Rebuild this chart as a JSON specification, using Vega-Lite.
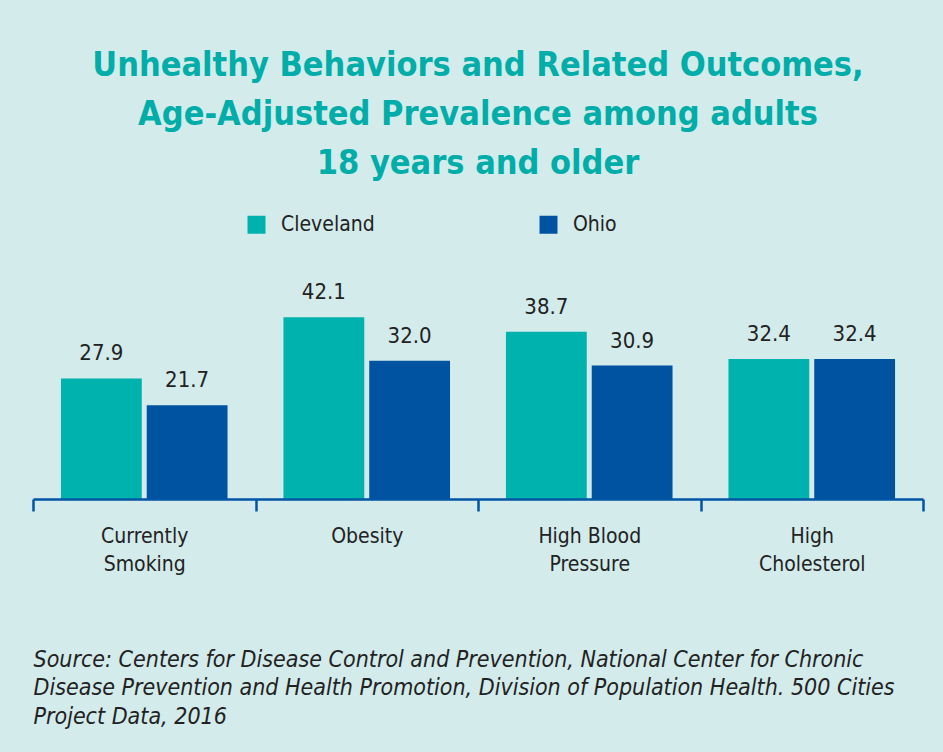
{
  "$schema": "https://vega.github.io/schema/vega-lite/v6.json",
  "autosize": "none",
  "width": 890,
  "height": 216,
  "padding": {"left": 33, "top": 283, "right": 20, "bottom": 253},
  "background": "#d3ebeb",
  "config": {
    "view": {"stroke": null},
    "font": "DejaVu Sans Condensed"
  },
  "title": {
    "text": ["Unhealthy Behaviors and Related Outcomes,", "Age-Adjusted Prevalence among adults", "18 years and older"],
    "color": "#00ada8",
    "font": "DejaVu Sans Condensed",
    "fontSize": 34,
    "fontWeight": "bold",
    "lineHeight": 49,
    "anchor": "middle",
    "offset": 33
  },
  "data": {
    "values": [
      {"measure": "Currently Smoking", "area": "Cleveland", "value": 27.9},
      {"measure": "Currently Smoking", "area": "Ohio", "value": 21.7},
      {"measure": "Obesity", "area": "Cleveland", "value": 42.1},
      {"measure": "Obesity", "area": "Ohio", "value": 32.0},
      {"measure": "High Blood Pressure", "area": "Cleveland", "value": 38.7},
      {"measure": "High Blood Pressure", "area": "Ohio", "value": 30.9},
      {"measure": "High Cholesterol", "area": "Cleveland", "value": 32.4},
      {"measure": "High Cholesterol", "area": "Ohio", "value": 32.4}
    ]
  },
  "encoding": {
    "x": {
      "field": "measure",
      "type": "nominal",
      "sort": ["Currently Smoking", "Obesity", "High Blood Pressure", "High Cholesterol"],
      "scale": {"paddingInner": 0, "paddingOuter": 0},
      "axis": {
        "title": ["Source: Centers for Disease Control and Prevention, National Center for Chronic", "Disease Prevention and Health Promotion, Division of Population Health. 500 Cities", "Project Data, 2016"],
        "titleFont": "DejaVu Sans Condensed",
        "titleFontStyle": "italic",
        "titleFontWeight": "normal",
        "titleFontSize": 23,
        "titleColor": "#222222",
        "titleLineHeight": 28.5,
        "titleAnchor": "start",
        "titleAlign": "left",
        "titleBaseline": "top",
        "titlePadding": 74,
        "labelAngle": 0,
        "labelFontSize": 21,
        "labelColor": "#222222",
        "labelLineHeight": 28,
        "labelPadding": 14,
        "labelBaseline": "top",
        "labelExpr": "datum.value == 'Currently Smoking' ? ['Currently', 'Smoking'] : datum.value == 'High Blood Pressure' ? ['High Blood', 'Pressure'] : datum.value == 'High Cholesterol' ? ['High', 'Cholesterol'] : datum.value",
        "domainColor": "#0055a4",
        "domainWidth": 2.5,
        "tickColor": "#0055a4",
        "tickWidth": 2.5,
        "tickSize": 12,
        "tickBand": "extent",
        "zindex": 1
      }
    },
    "xOffset": {
      "field": "area",
      "type": "nominal",
      "scale": {"paddingInner": 0.058, "paddingOuter": 0.326}
    },
    "y": {
      "field": "value",
      "type": "quantitative",
      "scale": {"domain": [0, 50]},
      "axis": null
    }
  },
  "layer": [
    {
      "mark": {"type": "bar"},
      "encoding": {
        "color": {
          "field": "area",
          "type": "nominal",
          "scale": {"domain": ["Cleveland", "Ohio"], "range": ["#00b2ad", "#0053a1"]},
          "legend": {
            "title": null,
            "orient": "none",
            "legendX": 213,
            "legendY": -69,
            "direction": "horizontal",
            "columns": 2,
            "symbolType": "square",
            "symbolSize": 324,
            "symbolStrokeWidth": 0,
            "symbolOpacity": 1,
            "labelFont": "DejaVu Sans Condensed",
            "labelFontSize": 21,
            "labelColor": "#222222",
            "labelOffset": 14,
            "columnPadding": 163
          }
        }
      }
    },
    {
      "mark": {"type": "text", "baseline": "alphabetic", "dy": -18, "fontSize": 22, "color": "#222222"},
      "encoding": {
        "text": {"field": "value", "type": "quantitative", "format": ".1f"}
      }
    }
  ]
}
